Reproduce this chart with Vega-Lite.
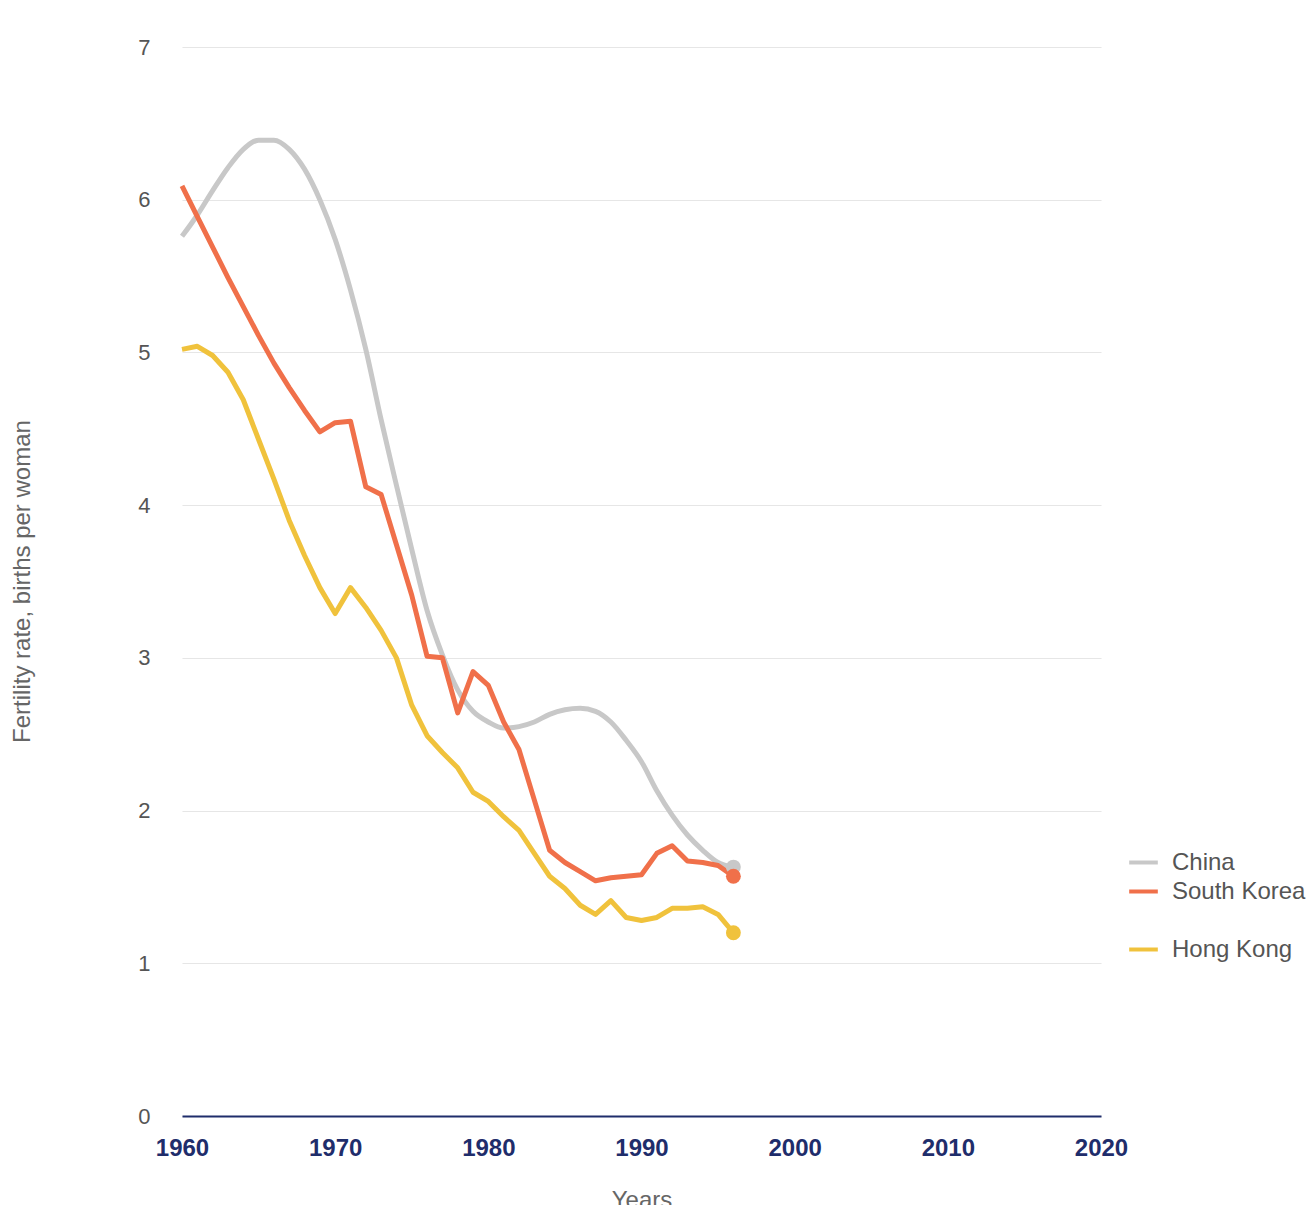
{
  "$schema": "https://vega.github.io/schema/vega-lite/v6.json",
  "width": 919,
  "height": 1069,
  "autosize": "none",
  "padding": {"left": 182, "top": 47, "right": 205, "bottom": 89},
  "background": "white",
  "config": {
    "font": "Liberation Sans",
    "view": {"stroke": null}
  },
  "data": {
    "values": [
      {"country": "China", "year": 1960, "value": 5.76},
      {"country": "China", "year": 1961, "value": 5.9},
      {"country": "China", "year": 1962, "value": 6.06},
      {"country": "China", "year": 1963, "value": 6.21},
      {"country": "China", "year": 1964, "value": 6.33},
      {"country": "China", "year": 1965, "value": 6.39},
      {"country": "China", "year": 1966, "value": 6.39},
      {"country": "China", "year": 1967, "value": 6.33},
      {"country": "China", "year": 1968, "value": 6.2},
      {"country": "China", "year": 1969, "value": 6.0},
      {"country": "China", "year": 1970, "value": 5.74},
      {"country": "China", "year": 1971, "value": 5.41},
      {"country": "China", "year": 1972, "value": 5.02},
      {"country": "China", "year": 1973, "value": 4.56},
      {"country": "China", "year": 1974, "value": 4.13},
      {"country": "China", "year": 1975, "value": 3.71},
      {"country": "China", "year": 1976, "value": 3.31},
      {"country": "China", "year": 1977, "value": 3.02},
      {"country": "China", "year": 1978, "value": 2.79},
      {"country": "China", "year": 1979, "value": 2.65},
      {"country": "China", "year": 1980, "value": 2.58},
      {"country": "China", "year": 1981, "value": 2.54},
      {"country": "China", "year": 1982, "value": 2.55},
      {"country": "China", "year": 1983, "value": 2.58},
      {"country": "China", "year": 1984, "value": 2.63},
      {"country": "China", "year": 1985, "value": 2.66},
      {"country": "China", "year": 1986, "value": 2.67},
      {"country": "China", "year": 1987, "value": 2.65},
      {"country": "China", "year": 1988, "value": 2.58},
      {"country": "China", "year": 1989, "value": 2.46},
      {"country": "China", "year": 1990, "value": 2.32},
      {"country": "China", "year": 1991, "value": 2.13},
      {"country": "China", "year": 1992, "value": 1.97},
      {"country": "China", "year": 1993, "value": 1.84},
      {"country": "China", "year": 1994, "value": 1.74},
      {"country": "China", "year": 1995, "value": 1.66},
      {"country": "China", "year": 1996, "value": 1.63},
      {"country": "South Korea", "year": 1960, "value": 6.09},
      {"country": "South Korea", "year": 1961, "value": 5.89},
      {"country": "South Korea", "year": 1962, "value": 5.69},
      {"country": "South Korea", "year": 1963, "value": 5.49},
      {"country": "South Korea", "year": 1964, "value": 5.3},
      {"country": "South Korea", "year": 1965, "value": 5.11},
      {"country": "South Korea", "year": 1966, "value": 4.93},
      {"country": "South Korea", "year": 1967, "value": 4.77},
      {"country": "South Korea", "year": 1968, "value": 4.62},
      {"country": "South Korea", "year": 1969, "value": 4.48},
      {"country": "South Korea", "year": 1970, "value": 4.54},
      {"country": "South Korea", "year": 1971, "value": 4.55},
      {"country": "South Korea", "year": 1972, "value": 4.12},
      {"country": "South Korea", "year": 1973, "value": 4.07},
      {"country": "South Korea", "year": 1974, "value": 3.74},
      {"country": "South Korea", "year": 1975, "value": 3.41},
      {"country": "South Korea", "year": 1976, "value": 3.01},
      {"country": "South Korea", "year": 1977, "value": 3.0},
      {"country": "South Korea", "year": 1978, "value": 2.64},
      {"country": "South Korea", "year": 1979, "value": 2.91},
      {"country": "South Korea", "year": 1980, "value": 2.82},
      {"country": "South Korea", "year": 1981, "value": 2.58},
      {"country": "South Korea", "year": 1982, "value": 2.4},
      {"country": "South Korea", "year": 1983, "value": 2.07},
      {"country": "South Korea", "year": 1984, "value": 1.74},
      {"country": "South Korea", "year": 1985, "value": 1.66},
      {"country": "South Korea", "year": 1986, "value": 1.6},
      {"country": "South Korea", "year": 1987, "value": 1.54},
      {"country": "South Korea", "year": 1988, "value": 1.56},
      {"country": "South Korea", "year": 1989, "value": 1.57},
      {"country": "South Korea", "year": 1990, "value": 1.58},
      {"country": "South Korea", "year": 1991, "value": 1.72},
      {"country": "South Korea", "year": 1992, "value": 1.77},
      {"country": "South Korea", "year": 1993, "value": 1.67},
      {"country": "South Korea", "year": 1994, "value": 1.66},
      {"country": "South Korea", "year": 1995, "value": 1.64},
      {"country": "South Korea", "year": 1996, "value": 1.57},
      {"country": "Hong Kong", "year": 1960, "value": 5.02},
      {"country": "Hong Kong", "year": 1961, "value": 5.04},
      {"country": "Hong Kong", "year": 1962, "value": 4.98},
      {"country": "Hong Kong", "year": 1963, "value": 4.87},
      {"country": "Hong Kong", "year": 1964, "value": 4.69},
      {"country": "Hong Kong", "year": 1965, "value": 4.43},
      {"country": "Hong Kong", "year": 1966, "value": 4.17},
      {"country": "Hong Kong", "year": 1967, "value": 3.9},
      {"country": "Hong Kong", "year": 1968, "value": 3.67},
      {"country": "Hong Kong", "year": 1969, "value": 3.46},
      {"country": "Hong Kong", "year": 1970, "value": 3.29},
      {"country": "Hong Kong", "year": 1971, "value": 3.46},
      {"country": "Hong Kong", "year": 1972, "value": 3.33},
      {"country": "Hong Kong", "year": 1973, "value": 3.18},
      {"country": "Hong Kong", "year": 1974, "value": 3.0},
      {"country": "Hong Kong", "year": 1975, "value": 2.69},
      {"country": "Hong Kong", "year": 1976, "value": 2.49},
      {"country": "Hong Kong", "year": 1977, "value": 2.38},
      {"country": "Hong Kong", "year": 1978, "value": 2.28},
      {"country": "Hong Kong", "year": 1979, "value": 2.12},
      {"country": "Hong Kong", "year": 1980, "value": 2.06},
      {"country": "Hong Kong", "year": 1981, "value": 1.96},
      {"country": "Hong Kong", "year": 1982, "value": 1.87},
      {"country": "Hong Kong", "year": 1983, "value": 1.72},
      {"country": "Hong Kong", "year": 1984, "value": 1.57},
      {"country": "Hong Kong", "year": 1985, "value": 1.49},
      {"country": "Hong Kong", "year": 1986, "value": 1.38},
      {"country": "Hong Kong", "year": 1987, "value": 1.32},
      {"country": "Hong Kong", "year": 1988, "value": 1.41},
      {"country": "Hong Kong", "year": 1989, "value": 1.3},
      {"country": "Hong Kong", "year": 1990, "value": 1.28},
      {"country": "Hong Kong", "year": 1991, "value": 1.3},
      {"country": "Hong Kong", "year": 1992, "value": 1.36},
      {"country": "Hong Kong", "year": 1993, "value": 1.36},
      {"country": "Hong Kong", "year": 1994, "value": 1.37},
      {"country": "Hong Kong", "year": 1995, "value": 1.32},
      {"country": "Hong Kong", "year": 1996, "value": 1.2}
    ]
  },
  "encoding": {
    "x": {
      "field": "year",
      "type": "quantitative",
      "scale": {"domain": [1960, 2020], "nice": false, "zero": false},
      "axis": {
        "title": "Years",
        "values": [1960, 1970, 1980, 1990, 2000, 2010, 2020],
        "format": "d",
        "grid": false,
        "ticks": false,
        "domainColor": "#1f2d6b",
        "domainWidth": 2,
        "labelColor": "#1f2d6b",
        "labelFontSize": 24,
        "labelFontWeight": "bold",
        "labelPadding": 20,
        "labelFlush": false,
        "titleFontSize": 24,
        "titleFontWeight": "normal",
        "titleColor": "#666666",
        "titleBaseline": "top",
        "titleY": 72
      }
    },
    "y": {
      "field": "value",
      "type": "quantitative",
      "scale": {"domain": [0, 7], "nice": false},
      "axis": {
        "title": "Fertility rate, births per woman",
        "values": [0, 1, 2, 3, 4, 5, 6, 7],
        "domain": false,
        "ticks": false,
        "gridColor": "#e6e6e6",
        "gridWidth": 1.2,
        "labelColor": "#555555",
        "labelFontSize": 22,
        "labelPadding": 32,
        "titleFontSize": 24,
        "titleFontWeight": "normal",
        "titleColor": "#666666",
        "titleX": -148,
        "titleY": 534
      }
    },
    "color": {
      "field": "country",
      "type": "nominal",
      "scale": {
        "domain": ["China", "South Korea", " ", "Hong Kong"],
        "range": ["#c8c8c8", "#f0704a", "transparent", "#f0c23c"]
      },
      "legend": {
        "orient": "none",
        "legendX": 945,
        "legendY": 799,
        "title": null,
        "symbolType": "stroke",
        "symbolStrokeWidth": 4,
        "symbolSize": 820,
        "labelFontSize": 24,
        "labelColor": "#555555",
        "labelFont": "Liberation Sans",
        "labelOffset": 12,
        "rowPadding": 0,
        "labelLimit": 300
      }
    }
  },
  "layer": [
    {
      "transform": [{"filter": "datum.country == 'China'"}],
      "mark": {"type": "line", "strokeWidth": 5, "interpolate": "monotone"}
    },
    {
      "transform": [{"filter": "datum.country != 'China'"}],
      "mark": {"type": "line", "strokeWidth": 5, "strokeJoin": "round"}
    },
    {
      "transform": [{"filter": "datum.year == 1996"}],
      "mark": {"type": "circle", "size": 220, "opacity": 1}
    }
  ]
}
